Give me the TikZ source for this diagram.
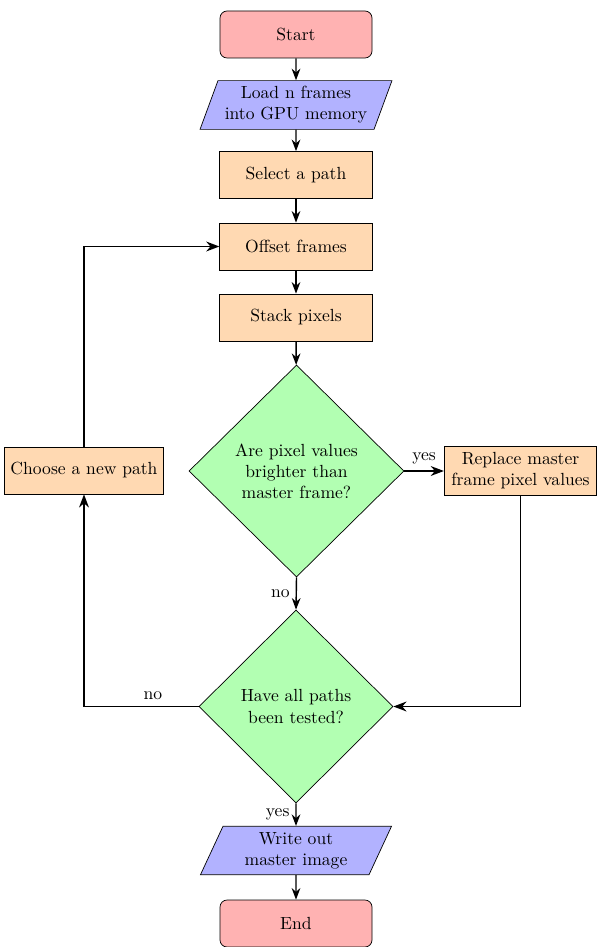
\documentclass[tikz,border=0pt]{standalone}
\usepackage{tikz}
\usetikzlibrary{arrows.meta,shapes.geometric}

\tikzset{
  startstop/.style={rectangle, rounded corners, minimum width=3.04cm, minimum height=0.94cm, align=center, draw=black, fill=red!30},
  io/.style={trapezium, trapezium left angle=70, trapezium right angle=110, trapezium stretches=true, minimum width=3.84cm, minimum height=0.92cm, align=center, draw=black, fill=blue!30},
  process/.style={rectangle, minimum width=3.05cm, minimum height=0.94cm, align=center, draw=black, fill=orange!30},
  decision/.style={diamond, aspect=1, align=center, draw=black, fill=green!30},
  arrow/.style={thick,->},
  loop/.style={line width=1pt,->},
}

\begin{document}
\begin{tikzpicture}[>=Stealth]
  \useasboundingbox (0,0) rectangle (11.96,-18.94);
  % main column
  \node[startstop] (start) at (5.92,-0.69) {Start};
  \node[io] (load) at (5.92,-2.10) {Load n frames\\into GPU memory};
  \node[process] (select) at (5.92,-3.50) {Select a path};
  \node[process] (offset) at (5.92,-4.93) {Offset frames};
  \node[process] (stack) at (5.92,-6.35) {Stack pixels};
  \node[decision, minimum width=4.3cm, minimum height=4.24cm] (brighter) at (5.93,-9.42) {Are pixel values\\brighter than\\master frame?};
  \node[decision, minimum width=3.88cm, minimum height=3.86cm] (tested) at (5.92,-14.13) {Have all paths\\been tested?};
  \node[io] (write) at (5.92,-17.01) {Write out\\master image};
  \node[startstop] (stop) at (5.92,-18.47) {End};
  % side boxes
  \node[process] (replace) at (10.41,-9.42) {Replace master\\frame pixel values};
  \node[process] (choose) at (1.68,-9.41) {Choose a new path};

  \draw[arrow] (start) -- (load);
  \draw[arrow] (load) -- (select);
  \draw[arrow] (select) -- (offset);
  \draw[arrow] (offset) -- (stack);
  \draw[arrow] (stack) -- (brighter);
  \draw[loop] (brighter.east) -- node[anchor=south] {yes} (replace.west);
  \draw[arrow] (brighter.south) -- node[anchor=east] {no} (tested.north);
  \draw[loop] (replace.south) |- (tested.east);
  \draw[loop] (tested.west) -| node[pos=0.2, anchor=south] {no} (choose.south);
  \draw[loop] (choose.north) |- (offset.west);
  \draw[arrow] (tested.south) -- node[anchor=east] {yes} (write);
  \draw[arrow] (write) -- (stop);
\end{tikzpicture}
\end{document}
